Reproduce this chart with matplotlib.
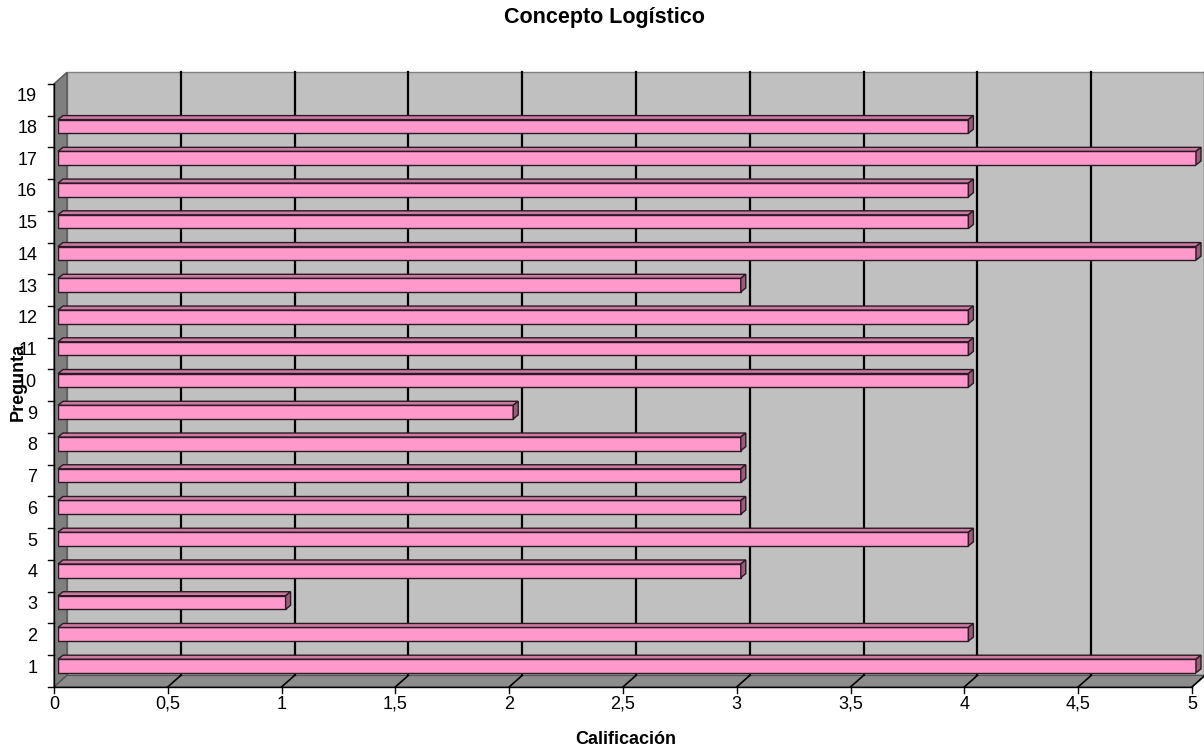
import matplotlib
matplotlib.use("Agg")
import matplotlib.pyplot as plt
from matplotlib.patches import Polygon, Rectangle

plt.rcParams["font.family"] = ["Liberation Sans", "DejaVu Sans"]

# datos
preguntas = list(range(1, 20))
calificacion = [5, 4, 1, 3, 4, 3, 3, 3, 2, 4, 4, 4, 3, 5, 4, 4, 5, 4, 0]
ticks_x = [0, 0.5, 1, 1.5, 2, 2.5, 3, 3.5, 4, 4.5, 5]
etiquetas_x = ["0", "0,5", "1", "1,5", "2", "2,5", "3", "3,5", "4", "4,5", "5"]

W, H = 1204, 749
fig = plt.figure(figsize=(W / 100, H / 100), dpi=100)

# plano de las barras (en pixeles)
x0, x1 = 58, 1196
ytop, ybot = 78.8, 681.9
ax = fig.add_axes([x0 / W, (H - ybot) / H, (x1 - x0) / W, (ybot - ytop) / H])
ax.set_xlim(0, 5)
ax.set_ylim(0.5, 19.5)
for s in ax.spines.values():
    s.set_visible(False)
ax.patch.set_visible(False)

sx = (x1 - x0) / 5.0
sy = (ybot - ytop) / 19.0


def px(dx, dy):
    return dx / sx, dy / sy


fx, fy = px(-4, -5)     # plano frontal
bx, by = px(9, 6.5)     # pared del fondo
ymin, ymax = 0.5, 19.5

# paredes
ax.add_patch(Rectangle((bx, ymin + by), 5, 19, facecolor="#c0c0c0",
                       edgecolor="#808080", lw=1, zorder=0, clip_on=False))
ax.add_patch(Polygon([(fx, ymin + fy), (fx, ymax + fy), (bx, ymax + by), (bx, ymin + by)],
                     closed=True, facecolor="#7f7f7f", edgecolor="#555555", lw=1,
                     zorder=0, clip_on=False))
ax.add_patch(Polygon([(fx, ymin + fy), (5 + fx, ymin + fy), (5 + bx, ymin + by), (bx, ymin + by)],
                     closed=True, facecolor="#8c8c8c", edgecolor="#555555", lw=1,
                     zorder=0, clip_on=False))

# lineas de division
for t in ticks_x[1:]:
    ax.plot([t + bx, t + bx], [ymin + by, ymax + by], color="black", lw=1.6,
            zorder=1, clip_on=False)
    ax.plot([t + fx, t + bx], [ymin + fy, ymin + by], color="black", lw=1.2,
            zorder=1, clip_on=False)

# ejes frontales
ax.plot([fx, fx], [ymin + fy, ymax + fy], color="black", lw=1, zorder=2, clip_on=False)
ax.plot([fx, 5 + fx], [ymin + fy, ymin + fy], color="black", lw=1, zorder=2, clip_on=False)
tx, ty = px(6, 6)
for i in range(len(preguntas) + 1):
    b = ymin + i
    ax.plot([fx - tx, fx], [b + fy, b + fy], color="black", lw=1, clip_on=False)
for t, lab in zip(ticks_x, etiquetas_x):
    ax.plot([t + fx, t + fx], [ymin + fy, ymin + fy - ty], color="black", lw=1, clip_on=False)
    ax.text(t + fx, ymin + fy - px(0, 9)[1], lab, ha="center", va="top", fontsize=13)

# barras 3D
h = 0.43
dx, dy = px(5, 4)
yb = [p for p, v in zip(preguntas, calificacion) if v > 0]
vb = [v for v in calificacion if v > 0]
ax.barh(yb, vb, height=h, color="#ff99cc", edgecolor="#2a1a22", lw=1, zorder=3)
for y, v in zip(yb, vb):
    top = [(0, y + h / 2), (v, y + h / 2), (v + dx, y + h / 2 + dy), (dx, y + h / 2 + dy)]
    side = [(v, y - h / 2), (v, y + h / 2), (v + dx, y + h / 2 + dy), (v + dx, y - h / 2 + dy)]
    ax.add_patch(Polygon(top, closed=True, facecolor="#cc7aa3", edgecolor="#2a1a22",
                         lw=1, zorder=3, clip_on=False))
    ax.add_patch(Polygon(side, closed=True, facecolor="#995c7a", edgecolor="#2a1a22",
                         lw=1, zorder=3, clip_on=False))

ax.set_xticks([])
ax.set_yticks(preguntas)
ax.set_yticklabels([str(p) for p in preguntas], fontsize=13)
ax.tick_params(axis="y", length=0, pad=15)

fig.text(604 / W, 1 - 18 / H, "Concepto Logístico", ha="center", va="center",
         fontsize=15.5, fontweight="bold")
fig.text(626 / W, 1 - 740 / H, "Calificación", ha="center", va="center",
         fontsize=13, fontweight="bold")
fig.text(18 / W, 1 - 382 / H, "Pregunta", ha="center", va="center", rotation=90,
         fontsize=13, fontweight="bold")

fig.savefig("out.png", dpi=100)
